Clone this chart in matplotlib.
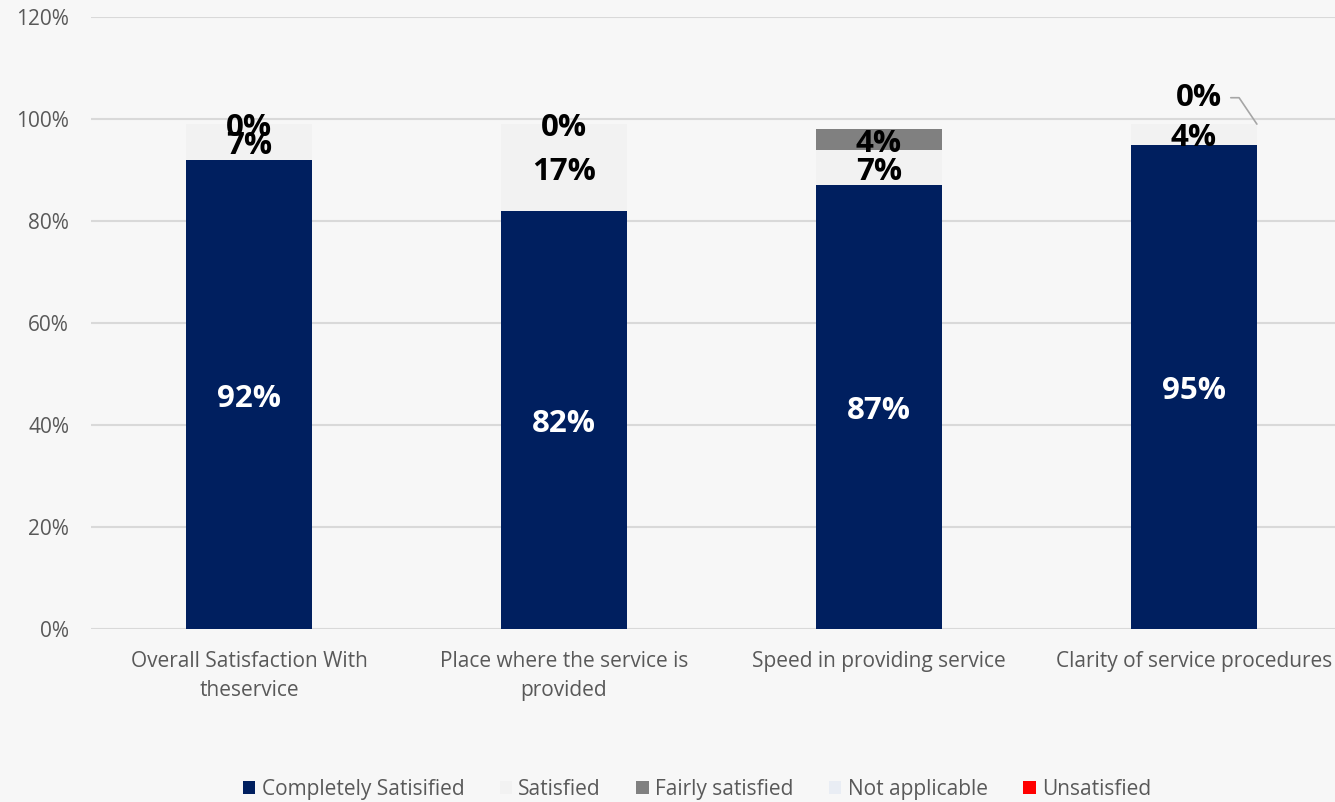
import numpy as np
import matplotlib.pyplot as plt

plt.rcParams['font.family'] = ['Open Sans', 'DejaVu Sans']

categories = ['Overall Satisfaction With\ntheservice',
              'Place where the service is\nprovided',
              'Speed in providing service',
              'Clarity of service procedures']
series = ['Completely Satisified', 'Satisfied', 'Fairly satisfied', 'Not applicable', 'Unsatisfied']
completely = [92, 82, 87, 95]
satisfied = [7, 17, 7, 4]
fairly = [0, 0, 4, 0]
not_applicable = [np.nan, np.nan, np.nan, np.nan]
unsatisfied = [np.nan, np.nan, np.nan, np.nan]
colors = ['#001f5f', '#f2f2f2', '#808080', '#e9edf4', '#ff0000']

bg = '#f7f7f7'
fig = plt.figure(figsize=(13.35, 8.02), dpi=100, facecolor=bg)
ax = fig.add_axes([0.0685, 0.2157, 0.9315, 0.7631])
ax.set_facecolor('none')

x = np.arange(len(categories))
w = 0.4
data = [completely, satisfied, fairly, not_applicable, unsatisfied]
bottom = np.zeros(len(categories))
conts = []
for vals, name, c in zip(data, series, colors):
    v = np.array(vals, dtype=float)
    bc = ax.bar(x, np.nan_to_num(v), w, bottom=bottom, color=c, label=name, zorder=2)
    conts.append(bc)
    bottom = bottom + np.nan_to_num(v)

lab_font = dict(fontsize=22.5, fontweight='bold')
# navy segment gets white labels, the rest black
anns = []
anns += ax.bar_label(conts[0], labels=[f'{v:.0f}%' for v in completely], label_type='center',
                     color='white', **lab_font)
anns += ax.bar_label(conts[1], labels=[f'{v:.0f}%' for v in satisfied], label_type='center',
                     color='black', **lab_font)
# last bar's 0% sits above the stack with a leader line
fair_labels = [f'{v:.0f}%' for v in fairly]
fair_labels[3] = ''
anns += ax.bar_label(conts[2], labels=fair_labels, label_type='center', color='black', **lab_font)
for a in anns:
    a.xyann = (0, -3)
top3 = completely[3] + satisfied[3] + fairly[3]
ax.annotate(f'{fairly[3]:.0f}%', xy=(x[3] + w / 2, top3), xytext=(-58, 19),
            textcoords='offset points', ha='left', va='center', color='black', **lab_font,
            arrowprops=dict(arrowstyle='-', color='#a6a6a6', lw=1.2, shrinkA=4, shrinkB=0,
                            connectionstyle='angle,angleA=0,angleB=124,rad=0'))

ax.set_xlim(-0.5, 3.448)
ax.set_ylim(0, 120)
ax.set_yticks(np.arange(0, 121, 20))
ax.set_yticklabels([f'{t}%' for t in range(0, 121, 20)])
ax.set_xticks(x)
ax.set_xticklabels(categories, linespacing=1.5)
ax.yaxis.grid(True, color='#d9d9d9', lw=1.5, zorder=0)
ax.set_axisbelow(True)
for s in ax.spines.values():
    s.set_visible(False)
ax.tick_params(axis='both', length=0, labelsize=15, colors='#595959')
ax.tick_params(axis='y', pad=16)
ax.tick_params(axis='x', pad=16)

leg = fig.legend(loc='center', bbox_to_anchor=(0.522, 0.016), ncol=5, frameon=False,
                 fontsize=15, handlelength=0.6, handleheight=0.6, handletextpad=0.3,
                 columnspacing=1.7, labelcolor='#595959')

fig.savefig('out.png', dpi=100, facecolor=bg)
